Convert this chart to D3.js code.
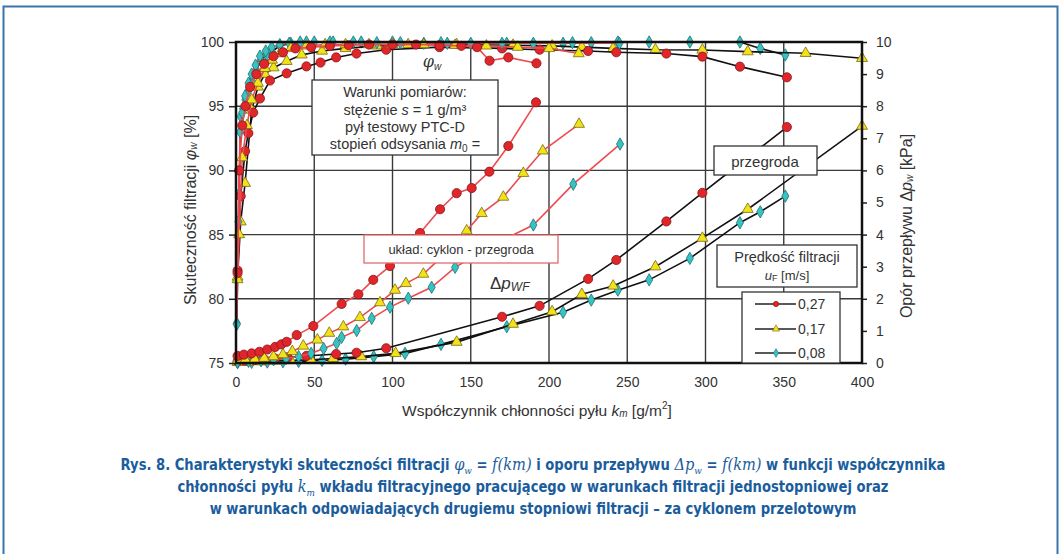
<!DOCTYPE html>
<html>
<head>
<meta charset="utf-8">
<script src="https://cdn.jsdelivr.net/npm/d3@7"></script>
<style>
  html, body { margin: 0; padding: 0; background: #fff; }
  svg { display: block; }
</style>
</head>
<body>
<svg id="chart" width="1061" height="554"></svg>
<script>
// ---- axis ticks ----
const kmTicks = [0, 50, 100, 150, 200, 250, 300, 350, 400];
const phiTicks = [75, 80, 85, 90, 95, 100];
const dpTicks = [0, 1, 2, 3, 4, 5, 6, 7, 8, 9, 10];

// ---- single-stage filtration (przegroda), efficiency phi_w [%] ----
const phiSingle027Km = [1, 3, 5.8, 7.9, 11, 15.3, 21.7, 32.4, 45, 54, 64, 77, 96, 130, 170, 194, 225, 243, 275, 298, 322, 352];
const phiSingle027   = [82.2, 88.0, 91.5, 92.9, 94.5, 95.6, 97.0, 97.56, 98.1, 98.4, 98.8, 99.1, 99.4, 99.6, 99.5, 99.4, 99.3, 99.2, 99.1, 98.86, 98.08, 97.25];
const phiSingle017Km = [1, 3, 5.8, 10, 14, 18.5, 24, 32.4, 42, 55, 70, 90, 110, 141, 177, 202, 221, 241, 268, 298, 327, 364, 400];
const phiSingle017   = [81.7, 86.0, 89.0, 94.7, 96.5, 97.5, 98.0, 98.5, 99.0, 99.3, 99.5, 99.7, 99.8, 99.8, 99.75, 99.7, 99.6, 99.5, 99.4, 99.38, 99.25, 99.12, 98.73];
const phiSingle008Km = [0.5, 2, 3, 4.5, 6, 8, 10.5, 13, 16, 19.5, 23, 28, 35, 45, 60, 80, 100, 131, 173, 209, 227, 244, 264, 290, 322, 335, 351];
const phiSingle008   = [78.1, 88.2, 94.2, 94.8, 95.5, 96.2, 96.9, 97.8, 98.6, 99.0, 99.25, 99.7, 99.9, 100, 100, 100, 100, 99.95, 99.9, 99.9, 99.95, 100, 100, 100, 100, 99.5, 98.99];

// ---- cyclone + partition system (układ cyklon - przegroda), efficiency phi_w [%] ----
const phiCyclone027Km = [1, 2, 4, 6, 9, 13, 18, 24, 30, 38, 48, 60, 72, 85, 100, 115, 130, 144, 154, 162, 174, 192];
const phiCyclone027   = [82.0, 90.0, 93.5, 95.0, 96.5, 97.5, 98.3, 98.9, 99.2, 99.5, 99.6, 99.7, 99.75, 99.8, 99.8, 99.8, 99.75, 99.7, 99.6, 98.54, 98.8, 98.34];
const phiCyclone017Km = [1, 2, 4, 7, 10, 14, 18.5, 23, 28, 35, 45, 57, 70, 85, 100, 120, 140, 160, 180, 200, 219];
const phiCyclone017   = [81.5, 85.0, 91.0, 93.5, 95.5, 96.8, 97.95, 98.6, 99.1, 99.5, 99.7, 99.8, 99.8, 99.8, 99.8, 99.8, 99.75, 99.7, 99.6, 99.5, 99.1];
const phiCyclone008Km = [0.5, 1.5, 2.6, 4, 5.8, 8, 10, 12.5, 15.3, 19, 22.8, 28, 34, 41, 50, 62, 75, 90, 105, 120, 135, 150, 170, 190, 215, 245];
const phiCyclone008   = [78.0, 86.0, 93.0, 94.5, 95.8, 96.8, 97.5, 98.2, 98.9, 99.3, 99.6, 99.8, 99.9, 100, 100, 100, 100, 99.95, 99.95, 99.9, 99.9, 99.9, 99.9, 99.9, 99.95, 99.9];

// ---- single-stage filtration, pressure drop dp_w [kPa] ----
const dpSingle027Km = [1, 6, 12, 18, 25, 33, 45, 64, 77, 96, 170, 194, 225, 243, 275, 298, 352];
const dpSingle027   = [0.05, 0.07, 0.09, 0.11, 0.14, 0.17, 0.22, 0.28, 0.32, 0.46, 1.44, 1.78, 2.62, 3.21, 4.41, 5.30, 7.35];
const dpSingle017Km = [1, 8, 16, 25, 35, 48, 62, 80, 102, 141, 177, 202, 221, 241, 268, 298, 327, 400];
const dpSingle017   = [0.02, 0.03, 0.04, 0.06, 0.08, 0.1, 0.14, 0.2, 0.3, 0.65, 1.21, 1.60, 2.14, 2.40, 3.00, 3.89, 4.79, 7.38];
const dpSingle008Km = [1, 10, 20, 30, 40, 55, 70, 88, 108, 131, 173, 209, 227, 244, 264, 290, 322, 335, 351];
const dpSingle008   = [0.01, 0.02, 0.03, 0.04, 0.05, 0.08, 0.12, 0.2, 0.3, 0.58, 1.13, 1.58, 1.96, 2.27, 2.59, 3.26, 4.37, 4.71, 5.20];

// ---- cyclone + partition system, pressure drop dp_w [kPa] ----
const dpCyclone027Km = [1, 5, 10, 15, 20, 25, 29, 32.4, 38.8, 49.4, 67.5, 78.2, 87.7, 98.4, 117.6, 130.4, 141, 150.6, 161.9, 174, 191.7];
const dpCyclone027   = [0.22, 0.26, 0.30, 0.35, 0.42, 0.50, 0.58, 0.66, 0.87, 1.15, 1.84, 2.14, 2.59, 3.02, 4.05, 4.79, 5.29, 5.45, 5.96, 6.76, 8.12];
const dpCyclone017Km = [1, 6, 12, 18, 24, 30, 36, 43, 52, 59.6, 68.6, 79.2, 92, 101.6, 108.6, 119.7, 133.5, 147.4, 157, 170.8, 183.6, 196, 219.2];
const dpCyclone017   = [0.08, 0.1, 0.12, 0.15, 0.2, 0.26, 0.36, 0.53, 0.72, 0.93, 1.13, 1.42, 1.88, 2.27, 2.48, 2.77, 3.40, 4.12, 4.66, 5.17, 5.91, 6.61, 7.44];
const dpCyclone008Km = [1, 8, 16, 24, 32, 40, 48, 56, 64.3, 67.5, 77.1, 86.7, 98.4, 110.1, 125, 140, 165, 190, 215.5, 245.4];
const dpCyclone008   = [0.03, 0.05, 0.07, 0.1, 0.14, 0.2, 0.3, 0.45, 0.61, 0.80, 1.01, 1.39, 1.74, 2.02, 2.36, 2.98, 3.7, 4.30, 5.57, 6.82];

// ---- legend ----
const velocityLabels = ["0,27", "0,17", "0,08"];

const svg = d3.select("#chart");
const FONT = "'Liberation Sans', Arial, sans-serif";

// outer blue frame
svg.append("rect")
  .attr("x", 3.5).attr("y", 6.5).attr("width", 1054).attr("height", 560)
  .attr("fill", "none").attr("stroke", "#3a74ad").attr("stroke-width", 2);

const x = d3.scaleLinear().domain([0, 400]).range([236, 862]);
const yPhi = d3.scaleLinear().domain([75, 100]).range([363, 42]);
const yDp = d3.scaleLinear().domain([0, 10]).range([363, 42]);

const plot = svg.append("g");

// grid
plot.selectAll("line.vg").data(kmTicks.slice(1, -1)).join("line")
  .attr("x1", d => x(d)).attr("x2", d => x(d))
  .attr("y1", yPhi(75)).attr("y2", yPhi(100))
  .attr("stroke", "#3a3a3a").attr("stroke-width", 1.4);
plot.selectAll("line.hg").data(phiTicks.slice(1, -1)).join("line")
  .attr("x1", x(0)).attr("x2", x(400))
  .attr("y1", d => yPhi(d)).attr("y2", d => yPhi(d))
  .attr("stroke", "#3a3a3a").attr("stroke-width", 1.4);

// axes
const axL = d3.axisLeft(yPhi).tickValues(phiTicks).tickSize(7).tickPadding(5);
const axR = d3.axisRight(yDp).tickValues(dpTicks).tickSize(5).tickPadding(9);
const axB = d3.axisBottom(x).tickValues(kmTicks).tickSize(0).tickPadding(14);

function styleAxis(g) {
  g.select(".domain").remove();
  g.selectAll(".tick line").attr("stroke", "#222").attr("stroke-width", 1.5);
  g.selectAll(".tick text").attr("font-family", FONT).attr("font-size", 14).attr("fill", "#333");
}
svg.append("g").attr("transform", `translate(${x(0)},0)`).call(axL).call(styleAxis);
svg.append("g").attr("transform", `translate(${x(400)},0)`).call(axR).call(styleAxis);
svg.append("g").attr("transform", `translate(0,${yPhi(75)})`).call(axB).call(styleAxis);

// series definition
const red = "#e0262b", yel = "#f2e21a", cyan = "#35c3c3";
const series = [
  { km: dpSingle008Km, v: dpSingle008, y: yDp, line: "#111", m: "d" },
  { km: dpSingle017Km, v: dpSingle017, y: yDp, line: "#111", m: "t" },
  { km: dpSingle027Km, v: dpSingle027, y: yDp, line: "#111", m: "c" },
  { km: phiSingle008Km, v: phiSingle008, y: yPhi, line: "#111", m: "d" },
  { km: phiSingle017Km, v: phiSingle017, y: yPhi, line: "#111", m: "t" },
  { km: phiSingle027Km, v: phiSingle027, y: yPhi, line: "#111", m: "c" },
  { km: dpCyclone008Km, v: dpCyclone008, y: yDp, line: "#ec4b4f", m: "d" },
  { km: dpCyclone017Km, v: dpCyclone017, y: yDp, line: "#ec4b4f", m: "t" },
  { km: dpCyclone027Km, v: dpCyclone027, y: yDp, line: "#ec4b4f", m: "c" },
  { km: phiCyclone008Km, v: phiCyclone008, y: yPhi, line: "#ec4b4f", m: "d" },
  { km: phiCyclone017Km, v: phiCyclone017, y: yPhi, line: "#ec4b4f", m: "t" },
  { km: phiCyclone027Km, v: phiCyclone027, y: yPhi, line: "#ec4b4f", m: "c" }
];

const markerPath = {
  c: d3.symbol(d3.symbolCircle, 66)(),
  t: d3.symbol(d3.symbolTriangle, 52)(),
  d: d3.symbol(d3.symbolDiamond, 44)()
};
const markerFill = { c: red, t: yel, d: cyan };
const markerStroke = { c: "#8a1515", t: "#7a6a10", d: "#1f6f70" };

const line = d3.line();
series.forEach(s => {
  const pts = s.km.map((k, i) => [x(k), s.y(s.v[i])]);
  plot.append("path").attr("d", line(pts)).attr("fill", "none")
    .attr("stroke", s.line).attr("stroke-width", 1.6);
  plot.selectAll(null).data(pts).join("path")
    .attr("d", markerPath[s.m])
    .attr("transform", d => `translate(${d[0]},${d[1]})`)
    .attr("fill", markerFill[s.m]).attr("stroke", markerStroke[s.m]).attr("stroke-width", 0.8);
});

// plot frame
svg.append("rect").attr("x", x(0)).attr("y", yPhi(100))
  .attr("width", x(400) - x(0)).attr("height", yPhi(75) - yPhi(100))
  .attr("fill", "none").attr("stroke", "#111").attr("stroke-width", 2.5);

// annotation boxes
function box(x0, y0, w, h, stroke) {
  svg.append("rect").attr("x", x0).attr("y", y0).attr("width", w).attr("height", h)
    .attr("fill", "#fff").attr("stroke", stroke || "#333").attr("stroke-width", 1.3);
}
function txt(tx, ty, str, opts = {}) {
  return svg.append("text").attr("x", tx).attr("y", ty)
    .attr("font-family", FONT).attr("font-size", opts.size || 13)
    .attr("fill", opts.fill || "#333")
    .attr("text-anchor", opts.anchor || "middle")
    .attr("dominant-baseline", "central")
    .text(str);
}

// measurement conditions
box(312, 80, 186, 75);
txt(405, 92, "Warunki pomiarów:", { size: 14.5 });
const l2 = txt(405, 110, "stężenie ", { size: 14.5 });
l2.append("tspan").attr("font-style", "italic").text("s");
l2.append("tspan").text(" = 1 g/m³");
txt(405, 127, "pył testowy PTC-D", { size: 14.5 });
const l4 = txt(405, 144, "stopień odsysania ", { size: 14.5 });
l4.append("tspan").attr("font-style", "italic").text("m");
l4.append("tspan").attr("font-size", 10).attr("dy", 4).text("0");
l4.append("tspan").attr("dy", -4).text(" =");

// phi_w label
const phiLab = txt(432, 61, "", { size: 16 });
phiLab.append("tspan").attr("font-family", "'DejaVu Serif', serif").attr("font-style", "italic").text("φ");
phiLab.append("tspan").attr("font-size", 10).attr("dy", 5).attr("font-style", "italic").text("w");

// cyclone - partition system
box(364, 235, 194, 28, "#e26a6e");
txt(461, 249, "układ: cyklon - przegroda");

// dp_WF label
const dpLab = txt(490, 283, "", { size: 17, anchor: "start" });
dpLab.append("tspan").text("Δ");
dpLab.append("tspan").attr("font-style", "italic").text("p");
dpLab.append("tspan").attr("font-size", 12).attr("dy", 4).attr("font-style", "italic").text("WF");

// partition
box(714, 146, 103, 29);
txt(765, 161, "przegroda", { size: 15 });

// velocity legend
box(717, 245, 140, 42);
txt(787, 257, "Prędkość filtracji", { size: 14.5 });
const uf = txt(787, 275, "", { size: 13 });
uf.append("tspan").attr("font-style", "italic").text("u");
uf.append("tspan").attr("font-size", 9).attr("dy", 3).text("F");
uf.append("tspan").attr("dy", -3).text(" [m/s]");

box(742, 292, 98, 71);
const legY = [304, 329, 353];
const legM = ["c", "t", "d"];
velocityLabels.forEach((lab, i) => {
  svg.append("line").attr("x1", 755).attr("x2", 796).attr("y1", legY[i]).attr("y2", legY[i])
    .attr("stroke", "#222").attr("stroke-width", 1.6);
  svg.append("path").attr("d", d3.symbol(i === 0 ? d3.symbolCircle : i === 1 ? d3.symbolTriangle : d3.symbolDiamond, 22)())
    .attr("transform", `translate(776,${legY[i]})`)
    .attr("fill", markerFill[legM[i]]).attr("stroke", markerStroke[legM[i]]).attr("stroke-width", 0.6);
  txt(798, legY[i], lab, { anchor: "start", size: 14 });
});

// axis titles
const tL = svg.append("text").attr("transform", "translate(190,210) rotate(-90)")
  .attr("text-anchor", "middle").attr("dominant-baseline", "central")
  .attr("font-family", FONT).attr("font-size", 16).attr("fill", "#333");
tL.append("tspan").text("Skuteczność filtracji ");
tL.append("tspan").attr("font-style", "italic").text("φ");
tL.append("tspan").attr("font-size", 10).attr("dy", 3).attr("font-style", "italic").text("w");
tL.append("tspan").attr("dy", -3).text(" [%]");

const tR = svg.append("text").attr("transform", "translate(906,226) rotate(-90)")
  .attr("text-anchor", "middle").attr("dominant-baseline", "central")
  .attr("font-family", FONT).attr("font-size", 16).attr("fill", "#333");
tR.append("tspan").text("Opór przepływu Δ");
tR.append("tspan").attr("font-style", "italic").text("p");
tR.append("tspan").attr("font-size", 10).attr("dy", 3).attr("font-style", "italic").text("w");
tR.append("tspan").attr("dy", -3).text(" [kPa]");

const tB = svg.append("text").attr("x", 537).attr("y", 410)
  .attr("text-anchor", "middle").attr("dominant-baseline", "central")
  .attr("font-family", FONT).attr("font-size", 15.5).attr("fill", "#333");
tB.append("tspan").text("Współczynnik chłonności pyłu ");
tB.append("tspan").attr("font-style", "italic").text("k");
tB.append("tspan").attr("font-size", 10).attr("dy", 3).attr("font-style", "italic").text("m");
tB.append("tspan").attr("dy", -3).text(" [g/m");
tB.append("tspan").attr("font-size", 10).attr("dy", -5).text("2");
tB.append("tspan").attr("dy", 5).text("]");

// figure caption
const CAP = "'DejaVu Sans Condensed', 'Liberation Sans Narrow', sans-serif";
const capColor = "#1b5d9c";
const capG = svg.append("g").attr("transform", "translate(533,0) scale(0.885,1) translate(-533,0)");
function capLine(cy, parts) {
  const t = capG.append("text").attr("x", 533).attr("y", cy)
    .attr("text-anchor", "middle").attr("dominant-baseline", "central")
    .attr("font-family", CAP).attr("font-weight", "bold").attr("font-size", 16.5)
    .attr("fill", capColor);
  parts.forEach(p => {
    const s = t.append("tspan").text(p.t);
    if (p.serif) s.attr("font-family", "'DejaVu Serif', 'Liberation Serif', serif").attr("font-style", "italic").attr("font-weight", "normal");
    if (p.sub) s.attr("font-size", 10).attr("dy", 5);
    if (p.up) s.attr("dy", -5);
  });
}
capLine(465, [
  { t: "Rys. 8. Charakterystyki skuteczności filtracji " },
  { t: "φ", serif: true }, { t: "w", serif: true, sub: true },
  { t: " = ", up: true }, { t: "f(km)", serif: true },
  { t: " i oporu przepływu " }, { t: "Δp", serif: true }, { t: "w", serif: true, sub: true },
  { t: " = ", up: true }, { t: "f(km)", serif: true },
  { t: " w funkcji współczynnika" }
]);
capLine(487, [
  { t: "chłonności pyłu " }, { t: "k", serif: true }, { t: "m", serif: true, sub: true },
  { t: " wkładu filtracyjnego pracującego w warunkach filtracji jednostopniowej oraz", up: true }
]);
capLine(509, [
  { t: "w warunkach odpowiadających drugiemu stopniowi filtracji – za cyklonem przelotowym" }
]);
</script>
</body>
</html>
